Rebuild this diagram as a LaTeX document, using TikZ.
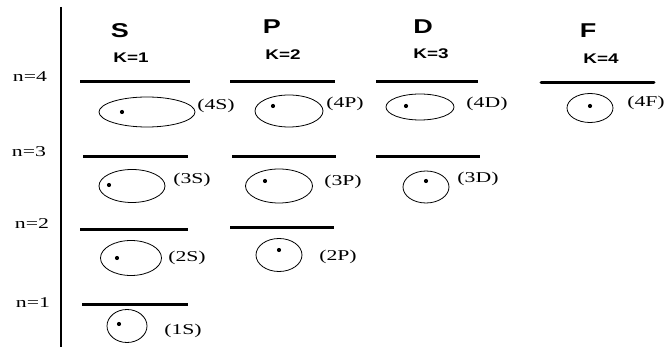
\documentclass[tikz,border=0pt]{standalone}
\usepackage{fontspec}
\newfontfamily\lblfont[FakeStretch=1.45]{Liberation Serif}
\newfontfamily\hdrfont[FakeStretch=1.35]{Liberation Sans}
\usetikzlibrary{positioning, shapes.geometric}

\begin{document}
\begin{tikzpicture}[x=1pt, y=-1pt,
    % Styles
    level/.style={line width=3pt},
    axisline/.style={line width=2.8pt},
    orbit/.style={draw, ellipse, line width=0.8pt, inner sep=0pt},
    electron/.style={circle, fill=black, inner sep=0pt, minimum size=4.2pt},
    orblabel/.style={font=\lblfont\fontsize{15}{15}\selectfont, inner sep=0pt},
    nlabel/.style={font=\lblfont\fontsize{15}{15}\selectfont, inner sep=0pt},
    letter/.style={font=\hdrfont\bfseries\fontsize{20}{20}\selectfont, inner sep=0pt},
    kval/.style={font=\hdrfont\bfseries\fontsize{14}{14}\selectfont, inner sep=0pt},
]
\useasboundingbox (0,0) rectangle (665,347);

% Axis
\draw[axisline] (61,7) -- (61,347);

% Shell labels
\node[nlabel] (n4) at (30,77) {n=4};
\node[nlabel] (n3) at (29,152) {n=3};
\node[nlabel] (n2) at (32,224) {n=2};
\node[nlabel] (n1) at (33,303) {n=1};

% Column headers
\node[letter] (hs) at (120,31) {S};
\node[kval] (ks) at (131,58) {K=1};
\node[letter] (hp) at (272,27) {P};
\node[kval] (kp) at (283,55) {K=2};
\node[letter] (hd) at (423,27) {D};
\node[kval] (kd) at (431,54) {K=3};
\node[letter] (hf) at (588,31) {F};
\node[kval] (kf) at (601,59) {K=4};

% Energy levels
\draw[level] (80,82) -- (190,82);
\draw[level] (230,82) -- (335,82);
\draw[level] (376,82) -- (478,82);
\draw[level, line cap=round] (541,83) -- (654,83);
\draw[level] (83,157) -- (188,157);
\draw[level] (232,157) -- (336,157);
\draw[level] (376,157) -- (480,157);
\draw[level] (80,230) -- (188,230);
\draw[level] (230,228) -- (334,228);
\draw[level] (82,305) -- (188,305);

% n=4 orbitals
\node[orbit, minimum width=96pt, minimum height=30pt] (o4s) at (147,112) {};
\node[electron] (e4s) at (122,112) {};
\node[orblabel] (l4s) at (216,106) {(4S)};
\node[orbit, minimum width=68pt, minimum height=32pt] (o4p) at (289,111) {};
\node[electron] (e4p) at (273,106) {};
\node[orblabel] (l4p) at (345,104) {(4P)};
\node[orbit, minimum width=68pt, minimum height=26pt] (o4d) at (420,107) {};
\node[electron] (e4d) at (406,106) {};
\node[orblabel] (l4d) at (487,104) {(4D)};
\node[orbit, minimum width=46pt, minimum height=29pt] (o4f) at (590,108) {};
\node[electron] (e4f) at (590,106) {};
\node[orblabel] (l4f) at (646,103) {(4F)};

% n=3 orbitals
\node[orbit, minimum width=66pt, minimum height=33pt] (o3s) at (132,186) {};
\node[electron] (e3s) at (109,185) {};
\node[orblabel] (l3s) at (192,180) {(3S)};
\node[orbit, minimum width=67pt, minimum height=34pt] (o3p) at (279,186) {};
\node[electron] (e3p) at (265,181) {};
\node[orblabel] (l3p) at (343,182) {(3P)};
\node[orbit, minimum width=46pt, minimum height=32pt] (o3d) at (426,187) {};
\node[electron] (e3d) at (426,181) {};
\node[orblabel] (l3d) at (478,179) {(3D)};

% n=2 orbitals
\node[orbit, minimum width=61pt, minimum height=35pt] (o2s) at (131,258) {};
\node[electron] (e2s) at (117,258) {};
\node[orblabel] (l2s) at (187,258) {(2S)};
\node[orbit, minimum width=46pt, minimum height=33pt] (o2p) at (279,255) {};
\node[electron] (e2p) at (279,250) {};
\node[orblabel] (l2p) at (338,257) {(2P)};

% n=1 orbital
\node[orbit, minimum width=40pt, minimum height=33pt] (o1s) at (127,326) {};
\node[electron] (e1s) at (119,324) {};
\node[orblabel] (l1s) at (183,331) {(1S)};

\end{tikzpicture}
\end{document}
